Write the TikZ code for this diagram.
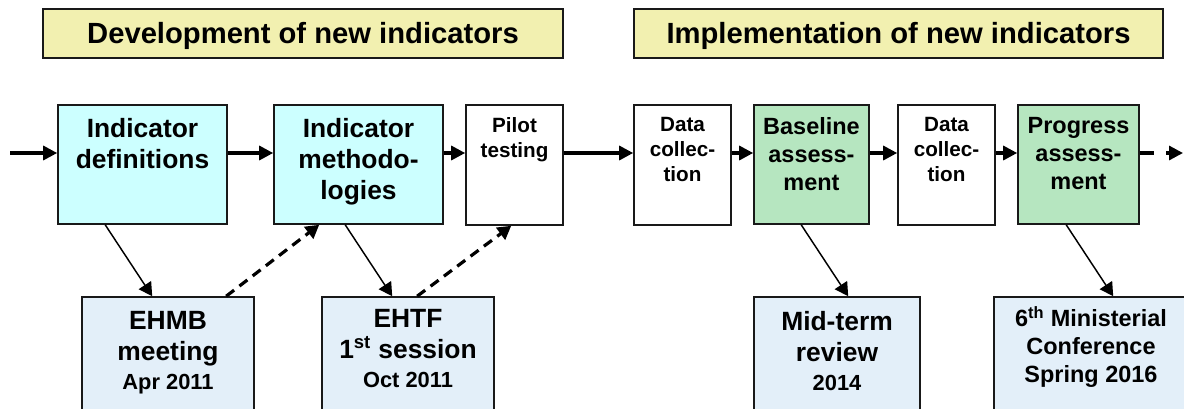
\documentclass[tikz,border=0pt]{standalone}
\usepackage{fontspec}
\setmainfont{Liberation Sans}
\usetikzlibrary{arrows.meta,fit,calc}

\definecolor{headfill}{RGB}{242,240,176}
\definecolor{defsfill}{RGB}{204,255,255}
\definecolor{evalfill}{RGB}{182,230,192}
\definecolor{eventfill}{RGB}{227,239,249}
\definecolor{edge}{RGB}{25,25,25}

\newcommand\headsize{\fontsize{21.9}{26}\selectfont\bfseries}
\newcommand\largesize{\fontsize{19.8}{23.25}\selectfont\bfseries}
\newcommand\eventsize{\fontsize{19.8}{23.3}\selectfont\bfseries}
\newcommand\midsize{\fontsize{17.6}{21}\selectfont\bfseries}
\newcommand\smallsize{\fontsize{15.5}{18.75}\selectfont\bfseries}
\newcommand\datesize{\fontsize{16.4}{21}\selectfont\bfseries}

\tikzset{
	stage/.style={draw=edge, line width=1.2pt, inner sep=0pt},
	txt/.style={anchor=north, align=center, inner sep=0pt},
	flow/.style={line width=2.4pt, -{Triangle[length=10.5pt,width=10.5pt]}},
	link/.style={line width=1.1pt, -{Triangle[length=10pt,width=11pt]}},
	feed/.style={line width=2.4pt, dash pattern=on 7.5pt off 5pt, -{Triangle[length=10pt,width=11pt]}},
}

\begin{document}
\begin{tikzpicture}[x=0.75pt,y=0.75pt,yscale=-1,xscale=1]
	\path[use as bounding box] (0,0) rectangle (1184,408);
	\clip (0,0) rectangle (1184,408);
	
	%Shape: Rectangle [headers]
	\node[stage, fill=headfill, fit={(43,9) (563,58)}] (devhead) {};
	\node[anchor=base, inner sep=0pt, font=\headsize] (devhead-txt) at (303,43.3) {Development of new indicators};
	\node[stage, fill=headfill, fit={(634,9) (1163,58)}] (imphead) {};
	\node[anchor=base, inner sep=0pt, font=\headsize] (imphead-txt) at (898.5,43.3) {Implementation of new indicators};
	
	%Shape: Rectangle [top row]
	\node[stage, fill=defsfill, fit={(58,105) (227,224)}] (defs) {};
	\node[stage, fill=defsfill, fit={(274,105) (443,224)}] (meth) {};
	\node[stage, fill=white, fit={(466,105) (563,225)}] (pilot) {};
	\node[stage, fill=white, fit={(634,105) (731,225)}] (data1) {};
	\node[stage, fill=evalfill, fit={(754,105) (869,224)}] (base) {};
	\node[stage, fill=white, fit={(898,105) (995,225)}] (data2) {};
	\node[stage, fill=evalfill, fit={(1018,105) (1139,224)}] (prog) {};
	
	% Text Node
	\node[txt, font=\largesize] (defs-txt) at ($(defs.north)+(0,14)$) {Indicator\\definitions};
	\node[txt, font=\largesize] (meth-txt) at ($(meth.north)+(0,14)$) {Indicator\\methodo-\\logies};
	\node[txt, font=\smallsize] (pilot-txt) at ($(pilot.north)+(0,13)$) {Pilot\\testing};
	\node[txt, font=\smallsize] (data1-txt) at ($(data1.north)+(0,13)$) {Data\\collec-\\tion};
	\node[txt, font=\midsize] (base-txt) at ($(base.north)+(0,13)$) {Baseline\\assess-\\ment};
	\node[txt, font=\smallsize] (data2-txt) at ($(data2.north)+(0,13)$) {Data\\collec-\\tion};
	\node[txt, font=\midsize] (prog-txt) at ($(prog.north)+(0,13)$) {Progress\\assess-\\ment};
	
	%Shape: Rectangle [events]
	\node[stage, fill=eventfill, fit={(82,297) (254,420)}] (ehmb) {};
	\node[stage, fill=eventfill, fit={(322,297) (494,420)}] (ehtf) {};
	\node[stage, fill=eventfill, fit={(754,297) (920,420)}] (midterm) {};
	\node[stage, fill=eventfill, fit={(994,297) (1188,420)}] (minconf) {};
	
	% Text Node
	\node[txt, font=\eventsize] (ehmb-txt) at ($(ehmb.north)+(0,15)$) {EHMB\\meeting\\[-2pt]\datesize Apr 2011};
	\node[txt, font=\eventsize] (ehtf-txt) at ($(ehtf.north)+(0,13)$) {EHTF\\1\textsuperscript{st} session\\[-2pt]\datesize Oct 2011};
	\node[txt, font=\eventsize] (midterm-txt) at ($(midterm.north)+(0,15)$) {Mid-term\\review\\[-2pt]\datesize 2014};
	\node[txt, font=\midsize] (minconf-txt) at ($(minconf.north)+(0,10)$) {6\textsuperscript{th} Ministerial\\Conference\\Spring 2016};
	
	%Straight Lines [main flow]
	\coordinate (start) at (10,153);
	\coordinate (beyond) at (1183,153);
	\draw[flow] (start) -- (start -| defs.west);
	\draw[flow] (defs.east |- start) -- (meth.west |- start);
	\draw[flow] (meth.east |- start) -- (pilot.west |- start);
	\draw[flow] (pilot.east |- start) -- (data1.west |- start);
	\draw[flow] (data1.east |- start) -- (base.west |- start);
	\draw[flow] (base.east |- start) -- (data2.west |- start);
	\draw[flow] (data2.east |- start) -- (prog.west |- start);
	\draw[flow, dash pattern=on 11pt off 9pt] (prog.east |- start) -- (beyond);
	
	%Straight Lines [to events]
	\draw[link] ($(defs.south west)+(48,0)$) -- ($(ehmb.north west)+(71,0)$);
	\draw[feed] ($(ehmb.north west)+(145,0)$) -- ($(meth.south west)+(46,0)$);
	\draw[link] ($(meth.south west)+(72,0)$) -- ($(ehtf.north west)+(71,0)$);
	\draw[feed] ($(ehtf.north west)+(96,0)$) -- ($(pilot.south west)+(46,0)$);
	\draw[link] ($(base.south west)+(48,0)$) -- ($(midterm.north west)+(95,0)$);
	\draw[link] ($(prog.south west)+(49,0)$) -- ($(minconf.north west)+(120,0)$);
	
\end{tikzpicture}
\end{document}
